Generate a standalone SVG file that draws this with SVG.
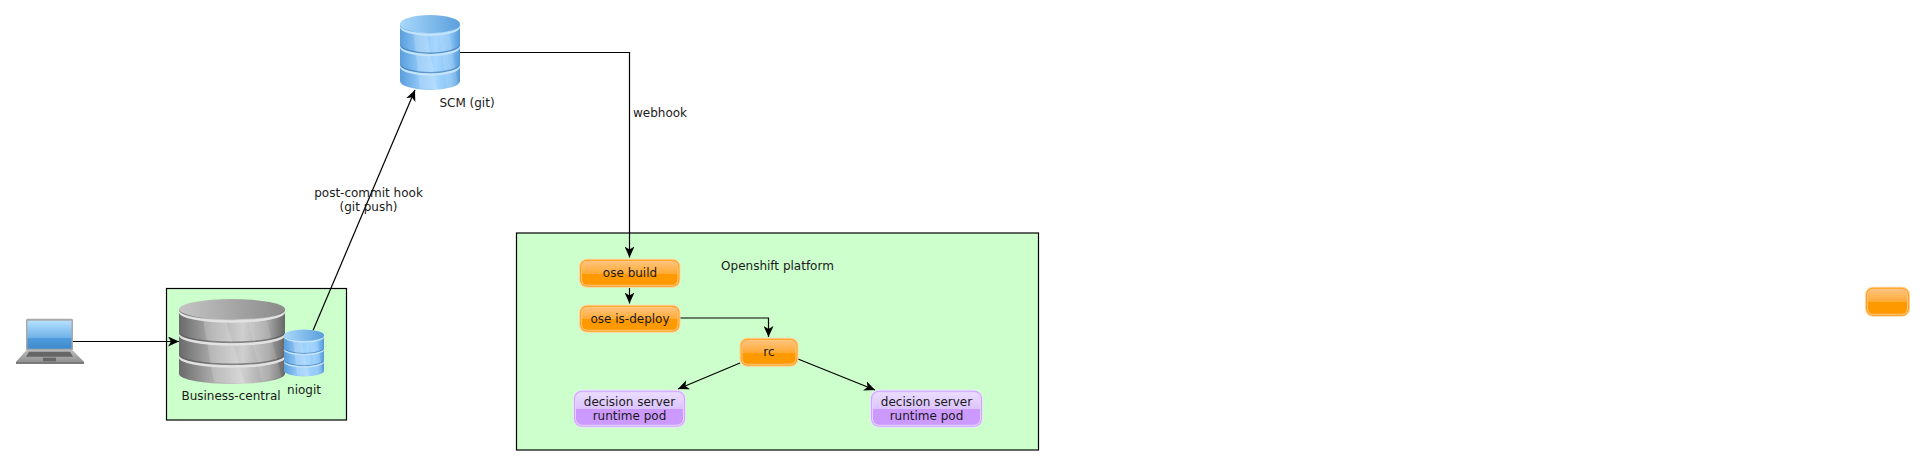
<svg xmlns="http://www.w3.org/2000/svg" xmlns:xlink="http://www.w3.org/1999/xlink" width="1925" height="465" viewBox="0 0 1925 465">
<style>
text{font-family:"DejaVu Sans",sans-serif;font-size:12px;fill:#1a1a1a;text-anchor:middle}
.zone{fill:#ccffcc;stroke:#000;stroke-width:1.2}
.edge{fill:none;stroke:#000;stroke-width:1.2;marker-end:url(#arrow)}
.o0{fill:#ffd59a}.o1{fill:#ff9f1a}.o2{fill:#ffc680}.o3{fill:url(#orange)}
.p0{fill:#efe0ff}.p1{fill:#cfa6ff}.p2{fill:#e6d2ff}.p3{fill:url(#purple)}
</style>
<defs>
<marker id="arrow" markerWidth="12" markerHeight="10" refX="11" refY="5" orient="auto" markerUnits="userSpaceOnUse"><path d="M0,0L11,5L0,10L3,5Z" fill="#000"/></marker>
<linearGradient id="orange" x1="0" y1="0" x2="0" y2="1"><stop offset="0" stop-color="#ffc27a"/><stop offset=".52" stop-color="#ffaa33"/><stop offset=".52" stop-color="#ff9900"/><stop offset="1" stop-color="#ff9900"/></linearGradient>
<linearGradient id="purple" x1="0" y1="0" x2="0" y2="1"><stop offset="0" stop-color="#eadcff"/><stop offset=".5" stop-color="#dcc4ff"/><stop offset=".5" stop-color="#cc99ff"/><stop offset="1" stop-color="#cc99ff"/></linearGradient>
<linearGradient id="bBody"><stop offset="0" stop-color="#5a9edc"/><stop offset=".3" stop-color="#8cc4f5"/><stop offset=".6" stop-color="#a5d6ff"/><stop offset=".85" stop-color="#85c2f5"/><stop offset="1" stop-color="#5598d8"/></linearGradient>
<linearGradient id="bTop"><stop offset="0" stop-color="#a9d8fb"/><stop offset="1" stop-color="#5a9fdc"/></linearGradient>
<linearGradient id="gBody"><stop offset="0" stop-color="#6a6a6a"/><stop offset=".3" stop-color="#a8a8a8"/><stop offset=".6" stop-color="#cfcfcf"/><stop offset=".85" stop-color="#a2a2a2"/><stop offset="1" stop-color="#666"/></linearGradient>
<linearGradient id="gTop"><stop offset="0" stop-color="#c4c4c4"/><stop offset="1" stop-color="#8a8a8a"/></linearGradient>
<linearGradient id="screen" x1="0" y1="0" x2="0" y2="1"><stop offset="0" stop-color="#b5e0ff"/><stop offset=".6" stop-color="#6fb2e8"/><stop offset=".62" stop-color="#4f9bdc"/><stop offset="1" stop-color="#3f8ccd"/></linearGradient>
<linearGradient id="base" x1="0" y1="0" x2="0" y2="1"><stop offset="0" stop-color="#b8b8b8"/><stop offset="1" stop-color="#8c8c8c"/></linearGradient>
<g id="cylBlue">
<path d="M0,13V88A50,12 0 0 0 100,88V13Z" fill="url(#bBody)"/>
<path d="M22,20L44,24L62,99L33,98Z" fill="#fff" opacity=".18"/>
<path d="M65,24L82,22L97,92L78,97Z" fill="#fff" opacity=".12"/>
<path d="M0,38A50,12 0 0 0 100,38V40A50,12 0 0 1 0,40Z" fill="#2f6ea8" opacity=".6"/>
<path d="M0,40A50,12 0 0 0 100,40V43A50,12 0 0 1 0,43Z" fill="#c4e4fc"/>
<path d="M0,64A50,12 0 0 0 100,64V66A50,12 0 0 1 0,66Z" fill="#2f6ea8" opacity=".6"/>
<path d="M0,66A50,12 0 0 0 100,66V69A50,12 0 0 1 0,69Z" fill="#c4e4fc"/>
<path d="M0,13A50,12 0 0 0 100,13V16A50,12 0 0 1 0,16Z" fill="#c4e4fc"/>
<ellipse cx="50" cy="12" rx="50" ry="12" fill="url(#bTop)"/>
</g>
<g id="cylGray">
<path d="M0,13V88A50,12 0 0 0 100,88V13Z" fill="url(#gBody)"/>
<path d="M22,20L44,24L62,99L33,98Z" fill="#fff" opacity=".18"/>
<path d="M65,24L82,22L97,92L78,97Z" fill="#fff" opacity=".12"/>
<path d="M0,38A50,12 0 0 0 100,38V40A50,12 0 0 1 0,40Z" fill="#555" opacity=".6"/>
<path d="M0,40A50,12 0 0 0 100,40V43A50,12 0 0 1 0,43Z" fill="#e2e2e2"/>
<path d="M0,64A50,12 0 0 0 100,64V66A50,12 0 0 1 0,66Z" fill="#555" opacity=".6"/>
<path d="M0,66A50,12 0 0 0 100,66V69A50,12 0 0 1 0,69Z" fill="#e2e2e2"/>
<path d="M0,13A50,12 0 0 0 100,13V16A50,12 0 0 1 0,16Z" fill="#e2e2e2"/>
<ellipse cx="50" cy="12" rx="50" ry="12" fill="url(#gTop)"/>
</g>
</defs>
<rect class="zone" x="166.5" y="288.500" width="180" height="131.500"/>
<rect class="zone" x="516.5" y="233" width="522" height="217"/>
<g id="connectors">
<path class="edge" d="M73,341.500H179"/>
<path class="edge" d="M313,330.500L415,90"/>
<path class="edge" d="M460,52.500H629.5V257.500"/>
<path class="edge" d="M629.5,288V303.500"/>
<path class="edge" d="M680,318H768.5V337"/>
<path class="edge" d="M740,363L678,389"/>
<path class="edge" d="M798,359L875,390"/>
</g>
<g id="laptop" transform="translate(0,.75)">
<path d="M26,350H73L84,361V363H16V361Z" fill="url(#base)"/>
<rect x="26" y="318" width="47" height="32" rx="1.5" fill="#a9a9a9"/>
<rect x="27.5" y="320" width="44" height="28" fill="url(#screen)"/>
<path d="M29,351H70L73,356H26Z" fill="#666"/>
<rect x="43" y="357" width="13" height="3.5" fill="#666"/>
<rect x="16" y="361.5" width="68" height="1.5" fill="#6e6e6e"/>
</g>
<g id="business-central">
<use xlink:href="#cylGray" href="#cylGray" transform="translate(179,299) scale(1.06,.85)"/>
<text x="231" y="400">Business-central</text>
</g>
<g id="niogit">
<use xlink:href="#cylBlue" href="#cylBlue" transform="translate(284,329.500) scale(.4,.47)"/>
<text x="304" y="394">niogit</text>
</g>
<g id="scm">
<use xlink:href="#cylBlue" href="#cylBlue" transform="translate(400,15) scale(.6,.75)"/>
<text x="467" y="107">SCM (git)</text>
</g>
<text x="660" y="117">webhook</text>
<text x="368.500" y="197">post-commit hook</text>
<text x="368.500" y="211">(git push)</text>
<text x="777.500" y="270">Openshift platform</text>
<g id="ose-build" transform="translate(0,.75)">
<rect class="o0" x="579" y="258" width="101.500" height="29" rx="8"/><rect class="o1" x="580" y="259" width="99.500" height="27" rx="7"/><rect class="o2" x="581" y="260" width="97.500" height="25" rx="6"/><rect class="o3" x="582" y="261" width="95.500" height="23" rx="5"/>
<text x="630" y="276.250">ose build</text>
</g>
<g id="ose-is-deploy" transform="translate(0,.75)">
<rect class="o0" x="579" y="304" width="101.500" height="28" rx="8"/><rect class="o1" x="580" y="305" width="99.500" height="26" rx="7"/><rect class="o2" x="581" y="306" width="97.500" height="24" rx="6"/><rect class="o3" x="582" y="307" width="95.500" height="22" rx="5"/>
<text x="630" y="322.250">ose is-deploy</text>
</g>
<g id="rc" transform="translate(0,.75)">
<rect class="o0" x="739.500" y="337" width="59" height="29" rx="8"/><rect class="o1" x="740.500" y="338" width="57" height="27" rx="7"/><rect class="o2" x="741.500" y="339" width="55" height="25" rx="6"/><rect class="o3" x="742.500" y="340" width="53" height="23" rx="5"/>
<text x="769" y="355.250">rc</text>
</g>
<g id="pod-1" transform="translate(0,.75)">
<rect class="p0" x="573" y="389" width="113" height="38" rx="9"/><rect class="p1" x="574" y="390" width="111" height="36" rx="8"/><rect class="p2" x="575" y="391" width="109" height="34" rx="7"/><rect class="p3" x="576" y="392" width="107" height="32" rx="6"/>
<text x="629.500" y="405.250">decision server</text>
<text x="629.500" y="419.250">runtime pod</text>
</g>
<g id="pod-2" transform="translate(0,.75)">
<rect class="p0" x="870" y="389" width="113" height="38" rx="9"/><rect class="p1" x="871" y="390" width="111" height="36" rx="8"/><rect class="p2" x="872" y="391" width="109" height="34" rx="7"/><rect class="p3" x="873" y="392" width="107" height="32" rx="6"/>
<text x="926.500" y="405.250">decision server</text>
<text x="926.500" y="419.250">runtime pod</text>
</g>
<g id="empty-box" transform="translate(0,.75)">
<rect class="o0" x="1865" y="286" width="45" height="30" rx="8"/><rect class="o1" x="1866" y="287" width="43" height="28" rx="7"/><rect class="o2" x="1867" y="288" width="41" height="26" rx="6"/><rect class="o3" x="1868" y="289" width="39" height="24" rx="5"/>
</g>
</svg>
